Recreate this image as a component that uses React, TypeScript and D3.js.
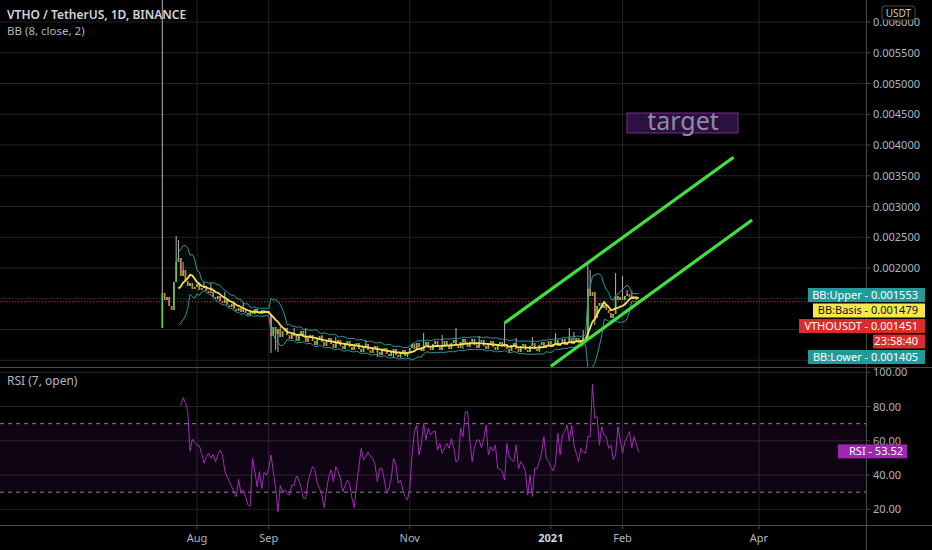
import * as d3 from 'd3';

const W = 932;
const H = 550;

// first daily candle of the series
const START = new Date(2020, 6, 17);
const firstOpen = 0.001024;

// daily closes, VTHO/USDT
const closes = [
  0.001594, 0.00148, 0.001528, 0.001382, 0.001317, 0.001772, 0.002098, 0.002163, 0.00187, 0.001967,
  0.001789, 0.001707, 0.001756, 0.001659, 0.001691, 0.00174, 0.001642, 0.001675, 0.001707, 0.001626,
  0.001594, 0.00161, 0.001528, 0.001496, 0.001545, 0.001463, 0.001431, 0.00148, 0.001398, 0.001366,
  0.001415, 0.001333, 0.001301, 0.00135, 0.001285, 0.001317, 0.001268, 0.001236, 0.001301, 0.001252,
  0.001333, 0.001285, 0.001252, 0.001317, 0.001268, 0.001301, 0.001252,
  0.000894, 0.001041, 0.000927, 0.001008, 0.000878, 0.000976, 0.001024, 0.000911, 0.000846, 0.000943,
  0.000894, 0.000813, 0.000911, 0.000976, 0.000878, 0.000797, 0.000862, 0.000911, 0.000813, 0.000748,
  0.000846, 0.000894, 0.000797, 0.000732, 0.000813, 0.000862, 0.000764, 0.000699, 0.00078, 0.000829,
  0.000732, 0.000683, 0.000764, 0.000813, 0.000715, 0.000667, 0.000748, 0.00078, 0.000683, 0.000634,
  0.000715, 0.000764, 0.000667, 0.000618, 0.000699, 0.000732, 0.000634, 0.000585, 0.000667, 0.000699,
  0.000602, 0.000569, 0.00065, 0.000683, 0.000585, 0.000553, 0.000634, 0.000667, 0.000569, 0.000618,
  0.000699, 0.000764, 0.000683, 0.00078, 0.000715, 0.00065, 0.000748, 0.000797, 0.000699, 0.000667,
  0.000764, 0.000813, 0.000715, 0.000667, 0.000748, 0.000813, 0.000732, 0.000683, 0.00078, 0.000829,
  0.000748, 0.000699, 0.000797, 0.000846, 0.000764, 0.000715, 0.000797, 0.000846, 0.000748, 0.000699,
  0.000797, 0.000829, 0.000732, 0.000683, 0.00078, 0.000813, 0.000715, 0.000667, 0.000764, 0.000797,
  0.000715, 0.000764, 0.000683, 0.00065, 0.000748, 0.00078, 0.000683, 0.000634, 0.000732, 0.000764,
  0.000667, 0.000634, 0.000732, 0.00078, 0.000683, 0.00065, 0.000748, 0.000797, 0.000699, 0.000748,
  0.000813, 0.000715, 0.000764, 0.000829, 0.000732, 0.00078, 0.000846, 0.000748, 0.000797, 0.000862,
  0.000764, 0.000813, 0.000862, 0.00078, 0.000829, 0.000878, 0.000862,
  0.001659, 0.001545, 0.00161, 0.001187, 0.001382, 0.001431, 0.00135, 0.001398, 0.001317, 0.001268,
  0.001187, 0.001252, 0.001545, 0.00148, 0.001528, 0.00148, 0.001545, 0.001577, 0.001528, 0.001496,
  0.001528, 0.00148, 0.001451,
];

// notable wicks: [candle index, price]
const wickHighs: [number, number][] = [
  [0, 0.0075], [6, 0.00252], [7, 0.002455], [9, 0.002098], [18, 0.001772], [21, 0.001756], [27, 0.00161],
  [35, 0.001431], [51, 0.00104], [57, 0.001024], [62, 0.001024], [69, 0.000911], [75, 0.000878],
  [88, 0.000829], [113, 0.000943], [121, 0.000911], [127, 0.001024], [137, 0.000894], [148, 0.001106],
  [153, 0.000862], [160, 0.000878], [170, 0.000943], [176, 0.001024], [178, 0.000959], [182, 0.000992],
  [184, 0.002065], [185, 0.001967], [196, 0.001919], [199, 0.00187], [201, 0.001642], [203, 0.001626],
];
const wickLows: [number, number][] = [
  [47, 0.000618], [49, 0.000667], [50, 0.000634], [93, 0.000553], [100, 0.000537], [103, 0.000537],
  [106, 0.000553], [130, 0.000683], [150, 0.00062], [163, 0.000634], [187, 0.001073],
];

// RSI (7, open), last readings of the series
const rsiValues = [
  80.5, 85.2, 82.5, 77, 54, 61, 59, 57.5, 57, 52.7, 47, 50.7, 52.7, 49.8, 52, 47.8, 51.7, 54.6, 52, 42.4,
  39, 36.1, 33.2, 29.9, 27.4, 37.5, 29.3, 31.3, 27.4, 22.5, 22, 49.8, 42.4, 33.2, 42, 32.2, 41.6, 40, 43.5, 51.7,
  42, 32.2, 18.6, 33.8, 30.3, 31.3, 29.3, 28.3, 34.2, 33.8, 39.4, 37.1, 33.2, 26.4, 26.4, 36.1, 41, 44.9, 43, 35.2,
  32.2, 28.3, 21, 31.3, 39, 43, 36.1, 44.9, 42, 38.1, 30.3, 33.8, 37.1, 34.6, 26.4, 21, 34.2, 44.9, 55.6, 48.8,
  50.7, 53.3, 50.7, 49.8, 45.9, 36.1, 43.9, 43.9, 37.1, 29.3, 32.2, 38.1, 49.8, 45.9, 35.2, 37.1, 31.3, 27.4, 25.4, 32.2,
  51.7, 65.3, 69.2, 51.7, 57.5, 70.2, 60.5, 67.3, 63.4, 65.3, 65.7, 54.6, 58.5, 52.7, 55.6, 58.5, 55.6, 61.4, 55.6, 47.8,
  48.8, 67.3, 62.4, 77, 77, 59.5, 47.8, 56.6, 60.5, 60.5, 56, 61.4, 69.2, 51.7, 56.6, 54, 57.5, 43.9, 43.5, 42,
  37.1, 58.5, 50.7, 48.8, 47.8, 57.5, 43.5, 47.8, 45.9, 42, 28.3, 40, 27.4, 43.9, 43.9, 47.8, 52.7, 62.4, 49.8, 47.8,
  44.9, 42.4, 46.8, 64.4, 51.7, 63.4, 65.3, 69.2, 59.9, 69.2, 57.5, 52.7, 47.8, 55.6, 53.6, 52.7, 62.4, 62.4, 93, 73.1,
  74.1, 57.5, 68.2, 63.4, 62.4, 55.6, 57.5, 48.8, 51.7, 68.2, 60.5, 52.7, 59.5, 62.4, 65.3, 56, 62.4, 57.5, 53.52,
];

const priceTicks = [0.0005, 0.001, 0.0015, 0.002, 0.0025, 0.003, 0.0035, 0.004, 0.0045, 0.005, 0.0055, 0.006];
// lower ticks sit under the side labels, so only these are printed
const priceTickLabels = [0.002, 0.0025, 0.003, 0.0035, 0.004, 0.0045, 0.005, 0.0055, 0.006];
const rsiTicks = [20, 40, 60, 80, 100];
const timeTicks = [
  { date: new Date(2020, 7, 1), label: 'Aug', bold: false },
  { date: new Date(2020, 8, 1), label: 'Sep', bold: false },
  { date: new Date(2020, 10, 1), label: 'Nov', bold: false },
  { date: new Date(2021, 0, 1), label: '2021', bold: true },
  { date: new Date(2021, 1, 1), label: 'Feb', bold: false },
  { date: new Date(2021, 3, 1), label: 'Apr', bold: false },
];

// hand drawn channel
const channelUpper = [
  { date: new Date(2020, 11, 12), price: 0.001106 },
  { date: new Date(2021, 2, 21), price: 0.0038 },
];
const channelLower = [
  { date: new Date(2021, 0, 1), price: 0.000403 },
  { date: new Date(2021, 2, 29), price: 0.00278 },
];

const lastPrice = 0.001451;
const rsiLast = 53.52;
const sideLabelTexts = ['BB:Upper - 0.001553', 'BB:Basis - 0.001479', 'VTHOUSDT - 0.001451', '23:58:40', 'BB:Lower - 0.001405'];
const sideLabelValues = [0.001553, 0.001479, 0.001451, 0.001451, 0.001405];
const sideLabelStyles = [
  { fill: '#229a9a', color: '#ffffff', left: 808 },
  { fill: '#f7e84a', color: '#131313', left: 813 },
  { fill: '#dc2b2b', color: '#ffffff', left: 799 },
  { fill: '#dc2b2b', color: '#ffffff', left: 873 },
  { fill: '#229a9a', color: '#ffffff', left: 808 },
];

const FONT = '"Noto Sans", "Open Sans", sans-serif';
const AXIS_X = 866;
const MAIN_BOTTOM = 367;
const RSI_BOTTOM = 525;

export default function App() {
  const x = d3.scaleTime().domain([new Date(2020, 7, 1), new Date(2021, 3, 1)]).range([197, 759]);
  const y = d3.scaleLinear().domain([0.002, 0.006]).range([268, 22]);
  const yr = d3.scaleLinear().domain([20, 100]).range([509.3, 372.3]);

  const dates = closes.map((_, i) => d3.timeDay.offset(START, i));
  const highMap = new Map(wickHighs);
  const lowMap = new Map(wickLows);

  const candles = closes.map((c, i) => {
    const o = i === 0 ? firstOpen : closes[i - 1];
    const hi = Math.max(o, c, highMap.get(i) ?? 0);
    const lo = Math.min(o, c, lowMap.get(i) ?? Infinity);
    return { date: dates[i], o, c, hi, lo, up: c >= o };
  });

  // Bollinger bands (8, close, 2)
  const period = 8;
  const bb = closes
    .map((_, i) => {
      if (i < period - 1) return null;
      const win = closes.slice(i - period + 1, i + 1);
      const m = d3.mean(win) as number;
      const sd = Math.sqrt(d3.mean(win, (v) => (v - m) ** 2) as number);
      return { date: dates[i], mid: m, up: m + 2 * sd, lo: m - 2 * sd };
    })
    .filter((d): d is { date: Date; mid: number; up: number; lo: number } => d !== null);

  const lineOf = (acc: (d: any) => number) =>
    d3.line<any>().x((d) => x(d.date)).y((d) => y(acc(d))).curve(d3.curveLinear);
  const bandArea = d3
    .area<any>()
    .x((d) => x(d.date))
    .y0((d) => y(d.lo))
    .y1((d) => y(d.up));

  const rsiOffset = closes.length - rsiValues.length;
  const rsiLine = d3
    .line<number>()
    .x((_, k) => x(dates[rsiOffset + k]))
    .y((v) => yr(v));

  const chanLine = d3
    .line<{ date: Date; price: number }>()
    .x((d) => x(d.date))
    .y((d) => y(d.price));

  // stacked side labels
  const labelH = 15;
  let prevBottom = -Infinity;
  const sideLabels = sideLabelTexts.map((t, k) => {
    let cy = y(sideLabelValues[k]);
    if (cy - labelH / 2 < prevBottom + 0.5) cy = prevBottom + 0.5 + labelH / 2;
    prevBottom = cy + labelH / 2;
    return { text: t, cy, ...sideLabelStyles[k] };
  });

  const bodyW = 1.7;

  return (
    <svg width={W} height={H} style={{ position: 'absolute', left: 0, top: 0, background: '#000' }}>
      <defs>
        <clipPath id="mainClip">
          <rect x={0} y={0} width={AXIS_X} height={MAIN_BOTTOM} />
        </clipPath>
        <clipPath id="rsiClip">
          <rect x={0} y={MAIN_BOTTOM + 1} width={AXIS_X} height={RSI_BOTTOM - MAIN_BOTTOM - 1} />
        </clipPath>
      </defs>
      <rect x={0} y={0} width={W} height={H} fill="#000" />

      {/* grid */}
      {timeTicks.map((t) => (
        <line key={t.label} x1={x(t.date)} x2={x(t.date)} y1={0} y2={RSI_BOTTOM} stroke="#232323" strokeWidth={1} />
      ))}
      {priceTicks.map((p) => (
        <line key={p} x1={0} x2={AXIS_X} y1={y(p)} y2={y(p)} stroke="#232323" strokeWidth={1} />
      ))}
      {rsiTicks.map((r) => (
        <line key={r} x1={0} x2={AXIS_X} y1={yr(r)} y2={yr(r)} stroke="#232323" strokeWidth={1} />
      ))}

      {/* main pane */}
      <g clipPath="url(#mainClip)">
        <path d={bandArea(bb) || ''} fill="rgba(20,140,140,0.06)" />
        <line x1={0} x2={AXIS_X} y1={y(lastPrice)} y2={y(lastPrice)} stroke="#d83030" strokeDasharray="1 2" strokeWidth={1} />
        {candles.map((d, i) => (
          <line key={'w' + i} x1={x(d.date)} x2={x(d.date)} y1={y(d.hi)} y2={y(d.lo)} stroke="#b4b4b4" strokeWidth={1} />
        ))}
        {candles.map((d, i) => {
          const top = y(Math.max(d.o, d.c));
          const h = Math.max(1, y(Math.min(d.o, d.c)) - top);
          return (
            <rect key={'b' + i} x={x(d.date) - bodyW / 2} y={top} width={bodyW} height={h} fill={d.up ? '#62c94a' : '#e5715a'} />
          );
        })}
        <path d={lineOf((d) => d.up)(bb) || ''} fill="none" stroke="#2f9696" strokeWidth={1} />
        <path d={lineOf((d) => d.lo)(bb) || ''} fill="none" stroke="#2f9696" strokeWidth={1} />
        <path d={lineOf((d) => d.mid)(bb) || ''} fill="none" stroke="#f2e350" strokeWidth={1.8} />
        <path d={chanLine(channelUpper) || ''} stroke="#3fe03f" strokeWidth={3.2} fill="none" />
        <path d={chanLine(channelLower) || ''} stroke="#3fe03f" strokeWidth={3.2} fill="none" />
      </g>

      {/* target note */}
      <rect x={627} y={113} width={111} height={20} fill="#2b1140" stroke="#7a2a8c" strokeWidth={1} />
      <text x={683} y={130} textAnchor="middle" fontFamily={FONT} fontSize={25} fill="#8e8aa8">
        target
      </text>

      {/* RSI pane */}
      <rect x={0} y={yr(70)} width={AXIS_X} height={yr(30) - yr(70)} fill="rgba(150,40,190,0.1)" />
      <line x1={0} x2={AXIS_X} y1={yr(70)} y2={yr(70)} stroke="#8a8a8a" strokeDasharray="4 4" />
      <line x1={0} x2={AXIS_X} y1={yr(30)} y2={yr(30)} stroke="#8a8a8a" strokeDasharray="4 4" />
      <g clipPath="url(#rsiClip)">
        <path d={rsiLine(rsiValues) || ''} fill="none" stroke="#a22cb5" strokeWidth={1} />
      </g>

      {/* separators and axes */}
      <line x1={0} x2={W} y1={MAIN_BOTTOM + 0.5} y2={MAIN_BOTTOM + 0.5} stroke="#4a4a4a" />
      <line x1={0} x2={W} y1={RSI_BOTTOM + 0.5} y2={RSI_BOTTOM + 0.5} stroke="#4a4a4a" />
      <line x1={AXIS_X + 0.5} x2={AXIS_X + 0.5} y1={0} y2={H} stroke="#4a4a4a" />

      {priceTicks.map((p) => (
        <line key={'pt' + p} x1={AXIS_X} x2={AXIS_X + 4} y1={y(p)} y2={y(p)} stroke="#4a4a4a" />
      ))}
      {priceTickLabels.map((p) => (
        <text key={'pl' + p} x={873} y={y(p) + 4} fontFamily={FONT} fontSize={11} fill="#b2b5be">
          {p.toFixed(6)}
        </text>
      ))}
      {rsiTicks.map((r) => (
        <g key={'rl' + r}>
          <line x1={AXIS_X} x2={AXIS_X + 4} y1={yr(r)} y2={yr(r)} stroke="#4a4a4a" />
          <text x={873} y={yr(r) + 4} fontFamily={FONT} fontSize={11} fill="#b2b5be">
            {r.toFixed(2)}
          </text>
        </g>
      ))}
      {timeTicks.map((t) => (
        <g key={'tl' + t.label}>
          <line x1={x(t.date)} x2={x(t.date)} y1={RSI_BOTTOM} y2={RSI_BOTTOM + 4} stroke="#4a4a4a" />
          <text
            x={x(t.date)}
            y={542}
            textAnchor="middle"
            fontFamily={FONT}
            fontSize={11}
            fontWeight={t.bold ? 700 : 400}
            fill={t.bold ? '#d1d4dc' : '#b2b5be'}
          >
            {t.label}
          </text>
        </g>
      ))}

      {/* price side labels */}
      {sideLabels.map((l) => (
        <g key={l.text}>
          <rect x={l.left} y={l.cy - labelH / 2} width={925 - l.left} height={labelH - 1} fill={l.fill} />
          <text x={918} y={l.cy + 3.5} textAnchor="end" fontFamily={FONT} fontSize={11} fill={l.color}>
            {l.text}
          </text>
        </g>
      ))}

      {/* RSI label */}
      <rect x={838} y={yr(rsiLast) - 7.5} width={69} height={14} fill="#9c27b0" />
      <text x={903} y={yr(rsiLast) + 3.5} textAnchor="end" fontFamily={FONT} fontSize={11} fill="#ffffff">
        {`RSI - ${rsiLast.toFixed(2)}`}
      </text>

      {/* currency badge */}
      <rect x={882} y={6} width={33} height={14} rx={3} fill="#000" stroke="#4a4a4a" />
      <text x={898.5} y={17} textAnchor="middle" fontFamily={FONT} fontSize={10} fill="#c8c8c8">
        USDT
      </text>

      {/* legends */}
      <text x={7} y={18.5} fontFamily={FONT} fontSize={12} fontWeight={600} fill="#d1d4dc">
        VTHO / TetherUS, 1D, BINANCE
      </text>
      <text x={7} y={34.5} fontFamily={FONT} fontSize={11.5} fill="#b2b5be">
        BB (8, close, 2)
      </text>
      <text x={7} y={385} fontFamily={FONT} fontSize={12} fill="#b2b5be">
        RSI (7, open)
      </text>
    </svg>
  );
}
